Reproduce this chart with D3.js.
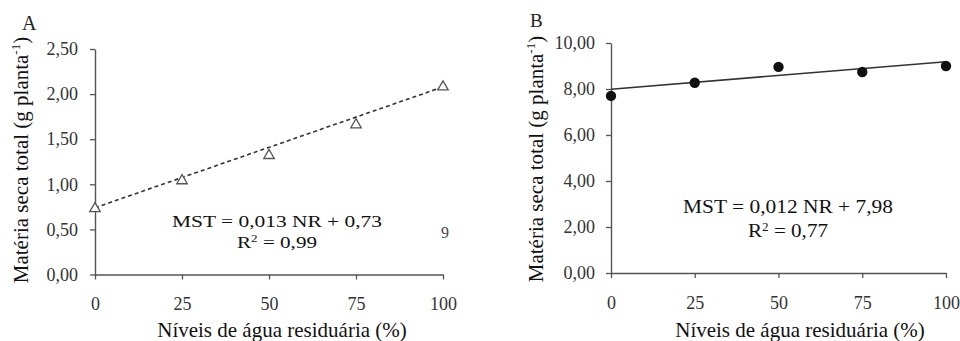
<!DOCTYPE html>
<html>
<head>
<meta charset="utf-8">
<script src="https://cdn.jsdelivr.net/npm/d3@7"></script>
<style>
  body { margin: 0; background: #fff; }
  text { font-family: 'Liberation Serif', 'Times New Roman', serif; }
</style>
</head>
<body>
<div class="canvas"></div>
<script>
// Data
const levels = [0, 25, 50, 75, 100]
const mstA = [0.73, 1.04, 1.32, 1.66, 2.08]
const mstB = [7.70, 8.27, 8.96, 8.74, 9.00]
// fitted line ends (at 0 and 100 %)
const fitA = [0.74, 2.08]
const fitB = [7.99, 9.19]
const yTicksA = [0, 0.5, 1, 1.5, 2, 2.5]
const yTicksB = [0, 2, 4, 6, 8, 10]
const eqA = ['MST = 0,013 NR + 0,73', '0,99']
const eqB = ['MST = 0,012 NR + 7,98', '0,77']

const svg = d3.select('.canvas')
  .append('svg')
  .attr('width', 960)
  .attr('height', 341)

const locale = d3.formatLocale({ decimal: ',', thousands: '.', grouping: [3], currency: ['', ''] })
const fmt = locale.format('.2f')

// Scales
const xA = d3.scaleLinear().domain([0, 100]).range([95, 443])
const yA = d3.scaleLinear().domain([0, 2.5]).range([274.5, 49])
const xB = d3.scaleLinear().domain([0, 100]).range([611, 946])
const yB = d3.scaleLinear().domain([0, 10]).range([273, 43])

const drawAxes = (x, y, yTicks, yPad) => {
  const xg = svg.append('g')
    .attr('transform', `translate(0, ${y(0)})`)
    .call(d3.axisBottom(x).tickValues(levels).tickSize(5).tickSizeOuter(0).tickPadding(18))
  const yg = svg.append('g')
    .attr('transform', `translate(${x(0)}, 0)`)
    .call(d3.axisLeft(y).tickValues(yTicks).tickFormat(fmt).tickSize(5).tickSizeOuter(0).tickPadding(yPad))
  for (const g of [xg, yg]) {
    g.select('.domain').attr('stroke', '#555').attr('stroke-width', 1.4)
    g.selectAll('.tick line').attr('stroke', '#555').attr('stroke-width', 1.3)
    g.selectAll('.tick text')
      .attr('fill', '#333')
      .style('font-size', '18px')
      .style('font-family', "'Liberation Serif', serif")
  }
}

drawAxes(xA, yA, yTicksA, 12)
drawAxes(xB, yB, yTicksB, 11)

// Panel A: dashed fit + open triangles
svg.append('line')
  .attr('x1', xA(0)).attr('y1', yA(fitA[0]))
  .attr('x2', xA(100)).attr('y2', yA(fitA[1]))
  .attr('stroke', '#333')
  .attr('stroke-width', 1.6)
  .attr('stroke-dasharray', '4,3')

svg.selectAll('.triA')
  .data(levels)
  .enter()
  .append('path')
  .attr('class', 'triA')
  .attr('d', d3.symbol().type(d3.symbolTriangle).size(48))
  .attr('transform', (d, i) => `translate(${xA(d)}, ${yA(mstA[i])})`)
  .attr('fill', 'white')
  .attr('stroke', '#555')
  .attr('stroke-width', 1.3)

// Panel B: solid fit + filled dots
svg.append('line')
  .attr('x1', xB(0)).attr('y1', yB(fitB[0]))
  .attr('x2', xB(100)).attr('y2', yB(fitB[1]))
  .attr('stroke', '#333')
  .attr('stroke-width', 1.5)

svg.selectAll('.dotB')
  .data(levels)
  .enter()
  .append('circle')
  .attr('class', 'dotB')
  .attr('cx', d => xB(d))
  .attr('cy', (d, i) => yB(mstB[i]))
  .attr('r', 5.2)
  .attr('fill', '#111')

// Panel letters
svg.append('text').attr('x', 22).attr('y', 30).text('A')
  .style('font-size', '20px').attr('fill', '#222')
svg.append('text').attr('x', 530).attr('y', 27).text('B')
  .style('font-size', '19px').attr('fill', '#222')

// y-axis labels
const yLabel = (x, cy) => {
  const t = svg.append('text')
    .attr('transform', `translate(${x}, ${cy}) rotate(-90)`)
    .attr('text-anchor', 'middle')
    .attr('fill', '#111')
    .style('font-size', '21px')
  t.append('tspan').text('Matéria seca total (g planta')
  t.append('tspan').text('-1').attr('dy', -8).style('font-size', '13px')
  t.append('tspan').text(')').attr('dy', 8)
}
yLabel(28, 160)
yLabel(543, 159)

// x-axis labels
svg.append('text').attr('x', 282).attr('y', 337).attr('text-anchor', 'middle')
  .attr('fill', '#111').style('font-size', '21px').text('Níveis de água residuária (%)')
svg.append('text').attr('x', 800).attr('y', 337).attr('text-anchor', 'middle')
  .attr('fill', '#111').style('font-size', '21px').text('Níveis de água residuária (%)')

// Equations
const equation = (eq, cx, y1, y2, size) => {
  svg.append('text').attr('x', cx - 105).attr('y', y1)
    .attr('textLength', 210).attr('lengthAdjust', 'spacingAndGlyphs')
    .attr('fill', '#111').style('font-size', size + 'px').text(eq[0])
  const r = svg.append('text').attr('x', cx - 40).attr('y', y2)
    .attr('textLength', 80).attr('lengthAdjust', 'spacingAndGlyphs')
    .attr('fill', '#111').style('font-size', size + 'px')
  r.append('tspan').text('R')
  r.append('tspan').text('2').attr('dy', -6).style('font-size', (size * 0.62) + 'px')
  r.append('tspan').text(' = ' + eq[1]).attr('dy', 6)
}
equation(eqA, 277, 227, 248, 17)
equation(eqB, 788, 213, 237, 19)

// stray mark in panel A
svg.append('text').attr('x', 445).attr('y', 238).attr('text-anchor', 'middle')
  .attr('fill', '#444').style('font-size', '16px').text('9')
</script>
</body>
</html>
